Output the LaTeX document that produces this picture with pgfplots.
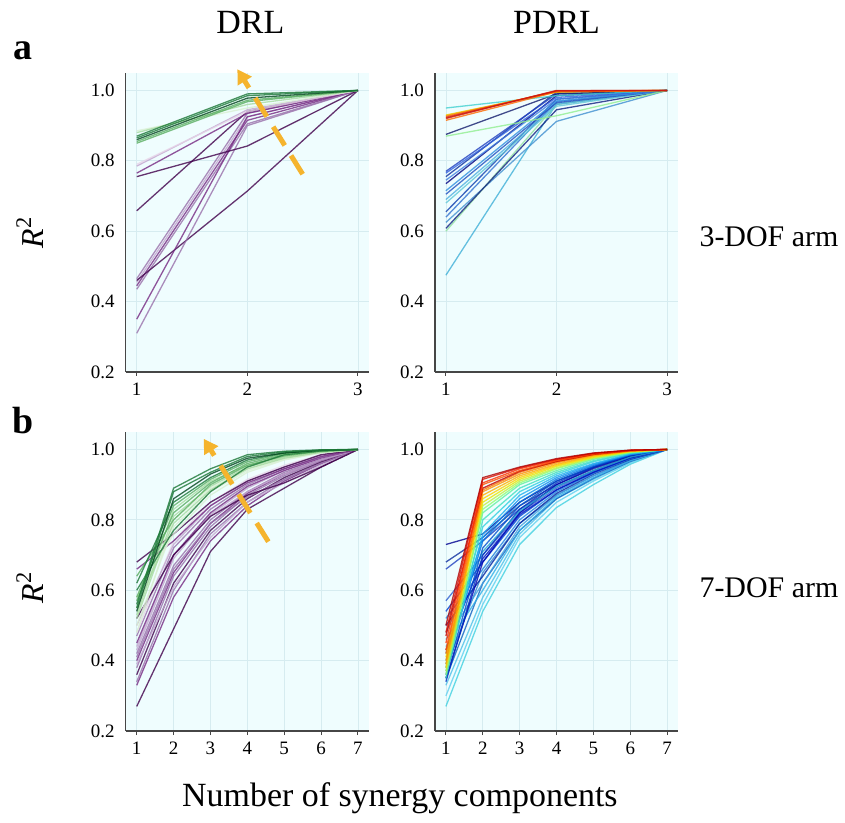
\documentclass[border=0pt]{standalone}
\usepackage{pgfplots}
\pgfplotsset{compat=1.18}
\usepgfplotslibrary{groupplots}
\usetikzlibrary{arrows.meta}
\usepackage{fontspec}
\setmainfont{Liberation Serif}
\definecolor{bgc}{RGB}{239,253,254}
\definecolor{gridc}{RGB}{214,236,240}
\definecolor{axc}{RGB}{70,70,70}
\definecolor{arrc}{RGB}{245,180,45}
% PRGn
\definecolor{pA}{HTML}{40004B}
\definecolor{pB}{HTML}{762A83}
\definecolor{pC}{HTML}{9970AB}
\definecolor{pD}{HTML}{C2A5CF}
\definecolor{pE}{HTML}{E7D4E8}
\definecolor{gE}{HTML}{D9F0D3}
\definecolor{gD}{HTML}{A6DBA0}
\definecolor{gC}{HTML}{5AAE61}
\definecolor{gB}{HTML}{1B7837}
\definecolor{gA}{HTML}{00441B}
\begin{document}
\begin{tikzpicture}
\pgfplotsset{ln/.style={line width=0.65pt, opacity=0.8}}
\begin{groupplot}[
  group style={group size=2 by 2, horizontal sep=33pt, vertical sep=30pt},
  width=122pt, height=150pt, scale only axis,
  ymin=0.2, ymax=1.05,
  ytick={0.2,0.4,0.6,0.8,1.0},
  yticklabel style={/pgf/number format/.cd, fixed, fixed zerofill, precision=1},
  /pgf/number format/assume math mode=true,
  tick label style={font=\fontsize{9.5}{11}\selectfont},
  axis lines*=left,
  axis line style={draw=axc, line width=0.7pt},
  tick align=outside,
  major tick length=2pt,
  ytick style={draw=none},
  xtick style={draw=axc, line width=0.5pt},
  grid=major,
  major grid style={draw=gridc, line width=0.4pt},
  axis background/.style={fill=bgc},
  clip=false,
]
% ---------- a, DRL ----------
\nextgroupplot[xmin=0.9, xmax=3.1, xtick={1,2,3}]
\addplot[ln,pC] coordinates {(1,0.465)(2,0.935)(3,1.0)};
\addplot[ln,pD] coordinates {(1,0.455)(2,0.925)(3,1.0)};
\addplot[ln,pB] coordinates {(1,0.445)(2,0.915)(3,1.0)};
\addplot[ln,pC] coordinates {(1,0.435)(2,0.905)(3,1.0)};
\addplot[ln,pA] coordinates {(1,0.46)(2,0.714)(3,1.0)};
\addplot[ln,pB] coordinates {(1,0.35)(2,0.925)(3,1.0)};
\addplot[ln,pC] coordinates {(1,0.31)(2,0.90)(3,1.0)};
\addplot[ln,pA] coordinates {(1,0.658)(2,0.94)(3,1.0)};
\addplot[ln,pA] coordinates {(1,0.755)(2,0.842)(3,1.0)};
\addplot[ln,pB] coordinates {(1,0.765)(2,0.935)(3,1.0)};
\addplot[ln,pD] coordinates {(1,0.785)(2,0.945)(3,1.0)};
\addplot[ln,pE] coordinates {(1,0.79)(2,0.94)(3,1.0)};
\addplot[ln,gE] coordinates {(1,0.885)(2,0.95)(3,1.0)};
\addplot[ln,gD] coordinates {(1,0.88)(2,0.96)(3,1.0)};
\addplot[ln,gC] coordinates {(1,0.85)(2,0.968)(3,1.0)};
\addplot[ln,gC] coordinates {(1,0.855)(2,0.972)(3,1.0)};
\addplot[ln,gA] coordinates {(1,0.86)(2,0.978)(3,1.0)};
\addplot[ln,gB] coordinates {(1,0.865)(2,0.985)(3,1.0)};
\addplot[ln,gB] coordinates {(1,0.87)(2,0.99)(3,1.0)};
\draw[arrc, line width=2.5pt, dash pattern=on 11pt off 6pt, -{Triangle[length=7pt,width=8pt]}] (axis cs:2.50,0.762) -- (axis cs:1.91,1.06);
% ---------- a, PDRL ----------
\nextgroupplot[xmin=0.9, xmax=3.1, xtick={1,2,3}]
\addplot[ln,color={rgb,255:red,64;green,176;blue,216}] coordinates {(1,0.475)(2,0.962)(3,1.0)};
\addplot[ln,color={rgb,255:red,64;green,144;blue,208}] coordinates {(1,0.625)(2,0.912)(3,1.0)};
\addplot[ln,color={rgb,255:red,144;green,224;blue,160}] coordinates {(1,0.60)(2,0.96)(3,1.0)};
\addplot[ln,color={rgb,255:red,16;green,32;blue,128}] coordinates {(1,0.608)(2,0.945)(3,1.0)};
\addplot[ln,color={rgb,255:red,48;green,112;blue,208}] coordinates {(1,0.64)(2,0.968)(3,1.0)};
\addplot[ln,color={rgb,255:red,16;green,64;blue,176}] coordinates {(1,0.655)(2,0.975)(3,1.0)};
\addplot[ln,color={rgb,255:red,96;green,200;blue,216}] coordinates {(1,0.68)(2,0.955)(3,1.0)};
\addplot[ln,color={rgb,255:red,80;green,176;blue,224}] coordinates {(1,0.69)(2,0.96)(3,1.0)};
\addplot[ln,color={rgb,255:red,32;green,80;blue,192}] coordinates {(1,0.705)(2,0.965)(3,1.0)};
\addplot[ln,color={rgb,255:red,48;green,144;blue,224}] coordinates {(1,0.715)(2,0.97)(3,1.0)};
\addplot[ln,color={rgb,255:red,0;green,0;blue,128}] coordinates {(1,0.735)(2,0.985)(3,1.0)};
\addplot[ln,color={rgb,255:red,64;green,128;blue,224}] coordinates {(1,0.745)(2,0.975)(3,1.0)};
\addplot[ln,color={rgb,255:red,16;green,48;blue,160}] coordinates {(1,0.755)(2,0.995)(3,1.0)};
\addplot[ln,color={rgb,255:red,48;green,96;blue,224}] coordinates {(1,0.765)(2,0.98)(3,1.0)};
\addplot[ln,color={rgb,255:red,32;green,64;blue,192}] coordinates {(1,0.77)(2,0.99)(3,1.0)};
\addplot[ln,color={rgb,255:red,144;green,238;blue,144}] coordinates {(1,0.87)(2,0.928)(3,1.0)};
\addplot[ln,color={rgb,255:red,20;green,30;blue,110}] coordinates {(1,0.875)(2,0.99)(3,1.0)};
\addplot[ln,color={rgb,255:red,64;green,208;blue,208}] coordinates {(1,0.95)(2,0.985)(3,1.0)};
\addplot[ln,color={rgb,255:red,232;green,208;blue,0}] coordinates {(1,0.93)(2,0.995)(3,1.0)};
\addplot[ln,color={rgb,255:red,255;green,153;blue,0}] coordinates {(1,0.928)(2,0.997)(3,1.0)};
\addplot[ln,color={rgb,255:red,255;green,106;blue,0}] coordinates {(1,0.915)(2,0.996)(3,1.0)};
\addplot[ln,color={rgb,255:red,240;green,74;blue,10}] coordinates {(1,0.925)(2,0.998)(3,1.0)};
\addplot[ln,color={rgb,255:red,224;green,48;blue,16}] coordinates {(1,0.92)(2,1.0)(3,1.0)};
\addplot[ln,color={rgb,255:red,200;green,20;blue,20}] coordinates {(1,0.922)(2,0.999)(3,1.0)};
% ---------- b, DRL ----------
\nextgroupplot[xmin=0.7, xmax=7.3, xtick={1,2,3,4,5,6,7}]
\addplot[ln,pA] coordinates {(1,0.27)(2,0.49)(3,0.71)(4,0.83)(5,0.89)(6,0.95)(7,1)};
\addplot[ln,pB] coordinates {(1,0.33)(2,0.58)(3,0.74)(4,0.84)(5,0.91)(6,0.96)(7,1)};
\addplot[ln,pC] coordinates {(1,0.34)(2,0.60)(3,0.76)(4,0.85)(5,0.915)(6,0.962)(7,1)};
\addplot[ln,pA] coordinates {(1,0.36)(2,0.62)(3,0.77)(4,0.86)(5,0.92)(6,0.965)(7,1)};
\addplot[ln,pC] coordinates {(1,0.38)(2,0.64)(3,0.78)(4,0.87)(5,0.925)(6,0.968)(7,1)};
\addplot[ln,pD] coordinates {(1,0.39)(2,0.61)(3,0.75)(4,0.85)(5,0.905)(6,0.955)(7,1)};
\addplot[ln,pB] coordinates {(1,0.40)(2,0.65)(3,0.79)(4,0.875)(5,0.93)(6,0.97)(7,1)};
\addplot[ln,pC] coordinates {(1,0.41)(2,0.66)(3,0.79)(4,0.865)(5,0.915)(6,0.96)(7,1)};
\addplot[ln,pC] coordinates {(1,0.42)(2,0.67)(3,0.80)(4,0.88)(5,0.935)(6,0.972)(7,1)};
\addplot[ln,pD] coordinates {(1,0.43)(2,0.69)(3,0.815)(4,0.89)(5,0.94)(6,0.975)(7,1)};
\addplot[ln,pD] coordinates {(1,0.44)(2,0.70)(3,0.81)(4,0.88)(5,0.93)(6,0.97)(7,1)};
\addplot[ln,pB] coordinates {(1,0.45)(2,0.70)(3,0.82)(4,0.895)(5,0.94)(6,0.976)(7,1)};
\addplot[ln,pC] coordinates {(1,0.47)(2,0.72)(3,0.83)(4,0.90)(5,0.945)(6,0.978)(7,1)};
\addplot[ln,pE] coordinates {(1,0.48)(2,0.74)(3,0.85)(4,0.915)(5,0.955)(6,0.985)(7,1)};
\addplot[ln,pD] coordinates {(1,0.50)(2,0.73)(3,0.84)(4,0.91)(5,0.95)(6,0.982)(7,1)};
\addplot[ln,pA] coordinates {(1,0.52)(2,0.70)(3,0.81)(4,0.87)(5,0.905)(6,0.95)(7,1)};
\addplot[ln,pB] coordinates {(1,0.66)(2,0.74)(3,0.84)(4,0.905)(5,0.945)(6,0.98)(7,1)};
\addplot[ln,pA] coordinates {(1,0.68)(2,0.76)(3,0.85)(4,0.91)(5,0.95)(6,0.985)(7,1)};
\addplot[ln,gE] coordinates {(1,0.48)(2,0.80)(3,0.89)(4,0.945)(5,0.975)(6,0.992)(7,1)};
\addplot[ln,gE] coordinates {(1,0.50)(2,0.78)(3,0.88)(4,0.94)(5,0.972)(6,0.991)(7,1)};
\addplot[ln,gE] coordinates {(1,0.58)(2,0.76)(3,0.87)(4,0.935)(5,0.97)(6,0.99)(7,1)};
\addplot[ln,gD] coordinates {(1,0.55)(2,0.79)(3,0.885)(4,0.945)(5,0.975)(6,0.992)(7,1)};
\addplot[ln,gD] coordinates {(1,0.52)(2,0.81)(3,0.895)(4,0.95)(5,0.978)(6,0.993)(7,1)};
\addplot[ln,gD] coordinates {(1,0.53)(2,0.83)(3,0.91)(4,0.955)(5,0.98)(6,0.994)(7,1)};
\addplot[ln,gC] coordinates {(1,0.64)(2,0.80)(3,0.90)(4,0.955)(5,0.982)(6,0.995)(7,1)};
\addplot[ln,gC] coordinates {(1,0.57)(2,0.82)(3,0.905)(4,0.96)(5,0.985)(6,0.996)(7,1)};
\addplot[ln,gB] coordinates {(1,0.60)(2,0.77)(3,0.88)(4,0.95)(5,0.985)(6,0.996)(7,1)};
\addplot[ln,gC] coordinates {(1,0.58)(2,0.84)(3,0.915)(4,0.965)(5,0.988)(6,0.997)(7,1)};
\addplot[ln,gB] coordinates {(1,0.62)(2,0.85)(3,0.92)(4,0.97)(5,0.99)(6,0.997)(7,1)};
\addplot[ln,gA] coordinates {(1,0.54)(2,0.86)(3,0.93)(4,0.975)(5,0.99)(6,0.998)(7,1)};
\addplot[ln,gB] coordinates {(1,0.55)(2,0.88)(3,0.935)(4,0.98)(5,0.993)(6,0.998)(7,1)};
\addplot[ln,gB] coordinates {(1,0.56)(2,0.89)(3,0.945)(4,0.985)(5,0.995)(6,0.999)(7,1)};
\draw[arrc, line width=2.5pt, dash pattern=on 11pt off 6pt, -{Triangle[length=7pt,width=8pt]}] (axis cs:4.57,0.738) -- (axis cs:2.82,1.03);
% ---------- b, PDRL ----------
\nextgroupplot[xmin=0.7, xmax=7.3, xtick={1,2,3,4,5,6,7}]
\addplot[ln,color={rgb,255:red,64;green,208;blue,224}] coordinates {(1,0.27)(2,0.54)(3,0.73)(4,0.835)(5,0.90)(6,0.958)(7,1)};
\addplot[ln,color={rgb,255:red,96;green,208;blue,240}] coordinates {(1,0.30)(2,0.56)(3,0.75)(4,0.85)(5,0.91)(6,0.962)(7,1)};
\addplot[ln,color={rgb,255:red,80;green,192;blue,232}] coordinates {(1,0.33)(2,0.58)(3,0.76)(4,0.86)(5,0.915)(6,0.965)(7,1)};
\addplot[ln,color={rgb,255:red,16;green,96;blue,192}] coordinates {(1,0.35)(2,0.62)(3,0.77)(4,0.86)(5,0.918)(6,0.966)(7,1)};
\addplot[ln,color={rgb,255:red,48;green,128;blue,208}] coordinates {(1,0.38)(2,0.65)(3,0.79)(4,0.87)(5,0.925)(6,0.968)(7,1)};
\addplot[ln,color={rgb,255:red,48;green,176;blue,232}] coordinates {(1,0.44)(2,0.60)(3,0.77)(4,0.865)(5,0.92)(6,0.968)(7,1)};
\addplot[ln,color={rgb,255:red,64;green,160;blue,224}] coordinates {(1,0.46)(2,0.62)(3,0.78)(4,0.87)(5,0.925)(6,0.97)(7,1)};
\addplot[ln,color={rgb,255:red,0;green,32;blue,160}] coordinates {(1,0.50)(2,0.64)(3,0.79)(4,0.875)(5,0.93)(6,0.972)(7,1)};
\addplot[ln,color={rgb,255:red,32;green,128;blue,224}] coordinates {(1,0.52)(2,0.66)(3,0.80)(4,0.88)(5,0.932)(6,0.974)(7,1)};
\addplot[ln,color={rgb,255:red,0;green,64;blue,208}] coordinates {(1,0.54)(2,0.68)(3,0.81)(4,0.885)(5,0.935)(6,0.975)(7,1)};
\addplot[ln,color={rgb,255:red,48;green,96;blue,208}] coordinates {(1,0.57)(2,0.70)(3,0.82)(4,0.89)(5,0.938)(6,0.976)(7,1)};
\addplot[ln,color={rgb,255:red,32;green,64;blue,192}] coordinates {(1,0.66)(2,0.74)(3,0.83)(4,0.895)(5,0.94)(6,0.978)(7,1)};
\addplot[ln,color={rgb,255:red,16;green,48;blue,160}] coordinates {(1,0.68)(2,0.75)(3,0.84)(4,0.90)(5,0.945)(6,0.98)(7,1)};
\addplot[ln,color={rgb,255:red,0;green,0;blue,144}] coordinates {(1,0.73)(2,0.76)(3,0.85)(4,0.91)(5,0.95)(6,0.983)(7,1)};
\addplot[ln,color={rgb,255:red,0;green,0;blue,176}] coordinates {(1,0.35)(2,0.68)(3,0.82)(4,0.90)(5,0.948)(6,0.982)(7,1)};
\addplot[ln,color={rgb,255:red,0;green,16;blue,192}] coordinates {(1,0.43)(2,0.69)(3,0.815)(4,0.885)(5,0.935)(6,0.976)(7,1)};
\addplot[ln,color={rgb,255:red,0;green,48;blue,192}] coordinates {(1,0.34)(2,0.70)(3,0.83)(4,0.905)(5,0.95)(6,0.983)(7,1)};
\addplot[ln,color={rgb,255:red,32;green,160;blue,208}] coordinates {(1,0.48)(2,0.71)(3,0.825)(4,0.895)(5,0.94)(6,0.978)(7,1)};
\addplot[ln,color={rgb,255:red,0;green,80;blue,208}] coordinates {(1,0.36)(2,0.72)(3,0.84)(4,0.91)(5,0.952)(6,0.984)(7,1)};
\addplot[ln,color={rgb,255:red,0;green,112;blue,224}] coordinates {(1,0.39)(2,0.74)(3,0.85)(4,0.915)(5,0.955)(6,0.985)(7,1)};
\addplot[ln,color={rgb,255:red,16;green,144;blue,240}] coordinates {(1,0.42)(2,0.75)(3,0.86)(4,0.92)(5,0.958)(6,0.986)(7,1)};
\addplot[ln,color={rgb,255:red,32;green,176;blue,240}] coordinates {(1,0.37)(2,0.76)(3,0.87)(4,0.925)(5,0.96)(6,0.987)(7,1)};
\addplot[ln,color={rgb,255:red,48;green,208;blue,224}] coordinates {(1,0.40)(2,0.78)(3,0.88)(4,0.93)(5,0.965)(6,0.989)(7,1)};
\addplot[ln,color={rgb,255:red,64;green,224;blue,192}] coordinates {(1,0.35)(2,0.80)(3,0.89)(4,0.935)(5,0.968)(6,0.99)(7,1)};
\addplot[ln,color={rgb,255:red,96;green,240;blue,160}] coordinates {(1,0.38)(2,0.82)(3,0.90)(4,0.94)(5,0.972)(6,0.991)(7,1)};
\addplot[ln,color={rgb,255:red,144;green,255;blue,112}] coordinates {(1,0.36)(2,0.83)(3,0.905)(4,0.945)(5,0.974)(6,0.992)(7,1)};
\addplot[ln,color={rgb,255:red,192;green,240;blue,64}] coordinates {(1,0.37)(2,0.84)(3,0.91)(4,0.948)(5,0.976)(6,0.993)(7,1)};
\addplot[ln,color={rgb,255:red,232;green,232;blue,0}] coordinates {(1,0.41)(2,0.85)(3,0.915)(4,0.952)(5,0.978)(6,0.994)(7,1)};
\addplot[ln,color={rgb,255:red,255;green,208;blue,0}] coordinates {(1,0.38)(2,0.86)(3,0.92)(4,0.955)(5,0.98)(6,0.995)(7,1)};
\addplot[ln,color={rgb,255:red,255;green,176;blue,0}] coordinates {(1,0.39)(2,0.87)(3,0.925)(4,0.958)(5,0.982)(6,0.995)(7,1)};
\addplot[ln,color={rgb,255:red,255;green,144;blue,0}] coordinates {(1,0.40)(2,0.88)(3,0.93)(4,0.962)(5,0.984)(6,0.996)(7,1)};
\addplot[ln,color={rgb,255:red,255;green,112;blue,0}] coordinates {(1,0.42)(2,0.885)(3,0.935)(4,0.965)(5,0.985)(6,0.996)(7,1)};
\addplot[ln,color={rgb,255:red,192;green,0;blue,0}] coordinates {(1,0.47)(2,0.89)(3,0.938)(4,0.966)(5,0.986)(6,0.997)(7,1)};
\addplot[ln,color={rgb,255:red,255;green,80;blue,0}] coordinates {(1,0.43)(2,0.90)(3,0.94)(4,0.968)(5,0.987)(6,0.997)(7,1)};
\addplot[ln,color={rgb,255:red,255;green,48;blue,0}] coordinates {(1,0.45)(2,0.905)(3,0.945)(4,0.97)(5,0.988)(6,0.997)(7,1)};
\addplot[ln,color={rgb,255:red,224;green,16;blue,0}] coordinates {(1,0.48)(2,0.915)(3,0.948)(4,0.972)(5,0.989)(6,0.998)(7,1)};
\addplot[ln,color={rgb,255:red,176;green,0;blue,0}] coordinates {(1,0.50)(2,0.92)(3,0.95)(4,0.974)(5,0.99)(6,0.998)(7,1)};
\end{groupplot}
% ---------- labels ----------
\begin{scope}[shift={(group c1r1.north west)}]
\node[font=\fontsize{17}{20}\selectfont] at (62.5pt,25.5pt) {DRL};
\node[font=\fontsize{17}{20}\selectfont] at (216pt,25.5pt) {PDRL};
\node[font=\fontsize{19}{22}\selectfont\bfseries, anchor=base] at (-51.5pt,6.5pt) {a};
\node[font=\fontsize{19}{22}\selectfont\bfseries, anchor=base] at (-51.5pt,-181pt) {b};
\node[font=\fontsize{16}{19}\selectfont, rotate=90] at (-48pt,-80pt) {\textit{R}\textsuperscript{2}};
\node[font=\fontsize{16}{19}\selectfont, rotate=90] at (-48pt,-258pt) {\textit{R}\textsuperscript{2}};
\node[font=\fontsize{15}{18}\selectfont] at (322.5pt,-82pt) {3-DOF arm};
\node[font=\fontsize{15}{18}\selectfont] at (322.5pt,-258pt) {7-DOF arm};
\node[font=\fontsize{17}{20}\selectfont] at (137.5pt,-363.5pt) {Number of synergy components};
\path[use as bounding box] (-63pt,36.5pt) rectangle (359.5pt,-376pt);
\end{scope}
\end{tikzpicture}
\end{document}
